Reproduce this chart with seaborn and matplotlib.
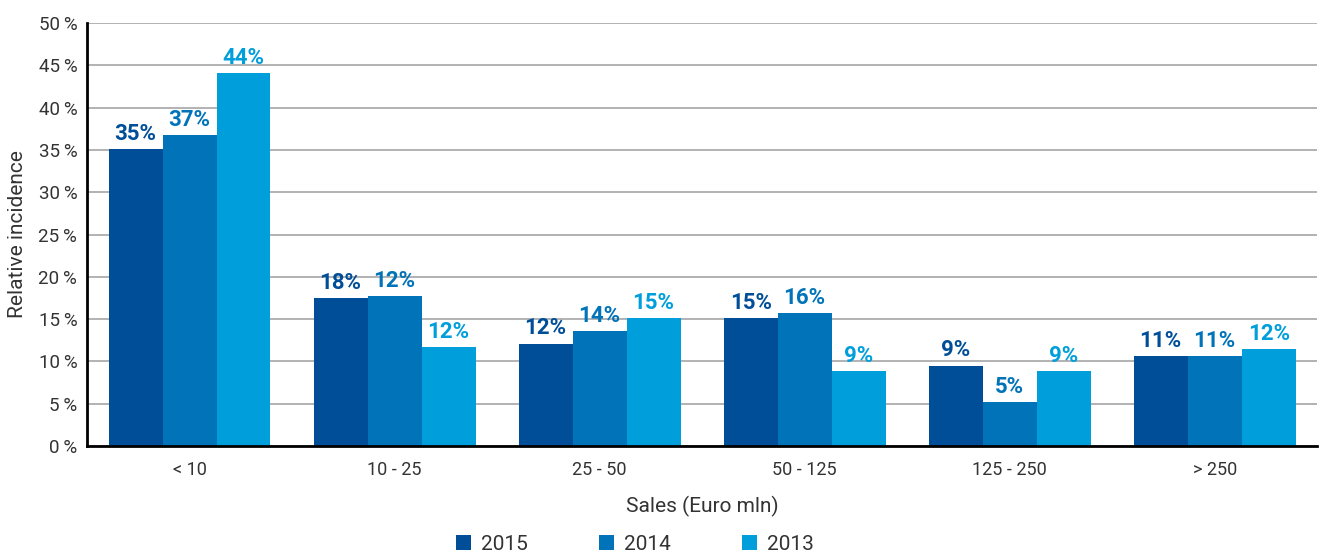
import matplotlib
matplotlib.use("Agg")
import matplotlib.pyplot as plt
import seaborn as sns
import pandas as pd
import numpy as np
from matplotlib.ticker import FixedLocator, FuncFormatter

categories = ["< 10", "10 - 25", "25 - 50", "50 - 125", "125 - 250", "> 250"]
years = ["2015", "2014", "2013"]
values_2015 = [35.1, 17.5, 12.1, 15.1, 9.5, 10.6]
values_2014 = [36.8, 17.7, 13.6, 15.7, 5.2, 10.6]
values_2013 = [44.1, 11.7, 15.1, 8.9, 8.9, 11.5]
labels_2015 = ["35%", "18%", "12%", "15%", "9%", "11%"]
labels_2014 = ["37%", "12%", "14%", "16%", "5%", "11%"]
labels_2013 = ["44%", "12%", "15%", "9%", "9%", "12%"]
colors = ["#004E98", "#0073B9", "#009FDC"]

rows = []
for y, vals in zip(years, [values_2015, values_2014, values_2013]):
    for c, v in zip(categories, vals):
        rows.append({"cat": c, "year": y, "val": v})
df = pd.DataFrame(rows)

sns.set_style("white")
plt.rcParams["font.family"] = ["Roboto", "DejaVu Sans"]

fig = plt.figure(figsize=(13.2, 5.56), dpi=100)
ax = fig.add_axes([0.0659, 0.1978, 0.932, 0.7608])

sns.barplot(data=df, x="cat", y="val", hue="year", hue_order=years,
            order=categories, palette=colors, width=0.79, saturation=1,
            linewidth=0, edgecolor="none", ax=ax, legend=True)

for cont, labs, col in zip(ax.containers, [labels_2015, labels_2014, labels_2013], colors):
    ax.bar_label(cont, labels=labs, padding=3, color=col, fontsize=16, fontweight="bold")

ax.set_ylim(0, 50)
ax.set_xlim(-0.5, len(categories) - 0.5)
ax.set_yticks(np.arange(0, 51, 5))
ax.yaxis.set_major_formatter(FuncFormatter(lambda v, p: f"{v:.0f}\u2009%"))
ax.yaxis.grid(True, color="#A6A6A8", linewidth=1.2)
ax.set_axisbelow(True)

for s in ["top", "right"]:
    ax.spines[s].set_visible(False)
ax.spines["left"].set_color("black")
ax.spines["left"].set_linewidth(2)
ax.spines["bottom"].set_color("black")
ax.spines["bottom"].set_linewidth(2)

ax.tick_params(axis="y", which="major", length=4, width=1.5, color="black",
               labelsize=13.5, labelcolor="#333333", pad=3)
ax.tick_params(axis="x", which="major", length=0, labelsize=13,
               labelcolor="#333333", pad=11)
ax.xaxis.set_minor_locator(FixedLocator(np.arange(-0.5, len(categories), 1.0)))
ax.tick_params(axis="x", which="minor", length=4, width=1.5, color="black")

ax.set_xlabel("Sales (Euro mln)", fontsize=15, color="#333333", labelpad=12)
ax.set_ylabel("Relative incidence", fontsize=15, color="#333333", labelpad=8)

handles, labs = ax.get_legend_handles_labels()
ax.get_legend().remove()
leg = fig.legend(handles, labs, loc="center", bbox_to_anchor=(0.481, 0.0215), ncol=3,
                 frameon=False, fontsize=15, handlelength=0.72, handleheight=0.72,
                 columnspacing=3.4, handletextpad=0.5, borderpad=0)
for t in leg.get_texts():
    t.set_color("#333333")

fig.savefig("out.png", dpi=100)
